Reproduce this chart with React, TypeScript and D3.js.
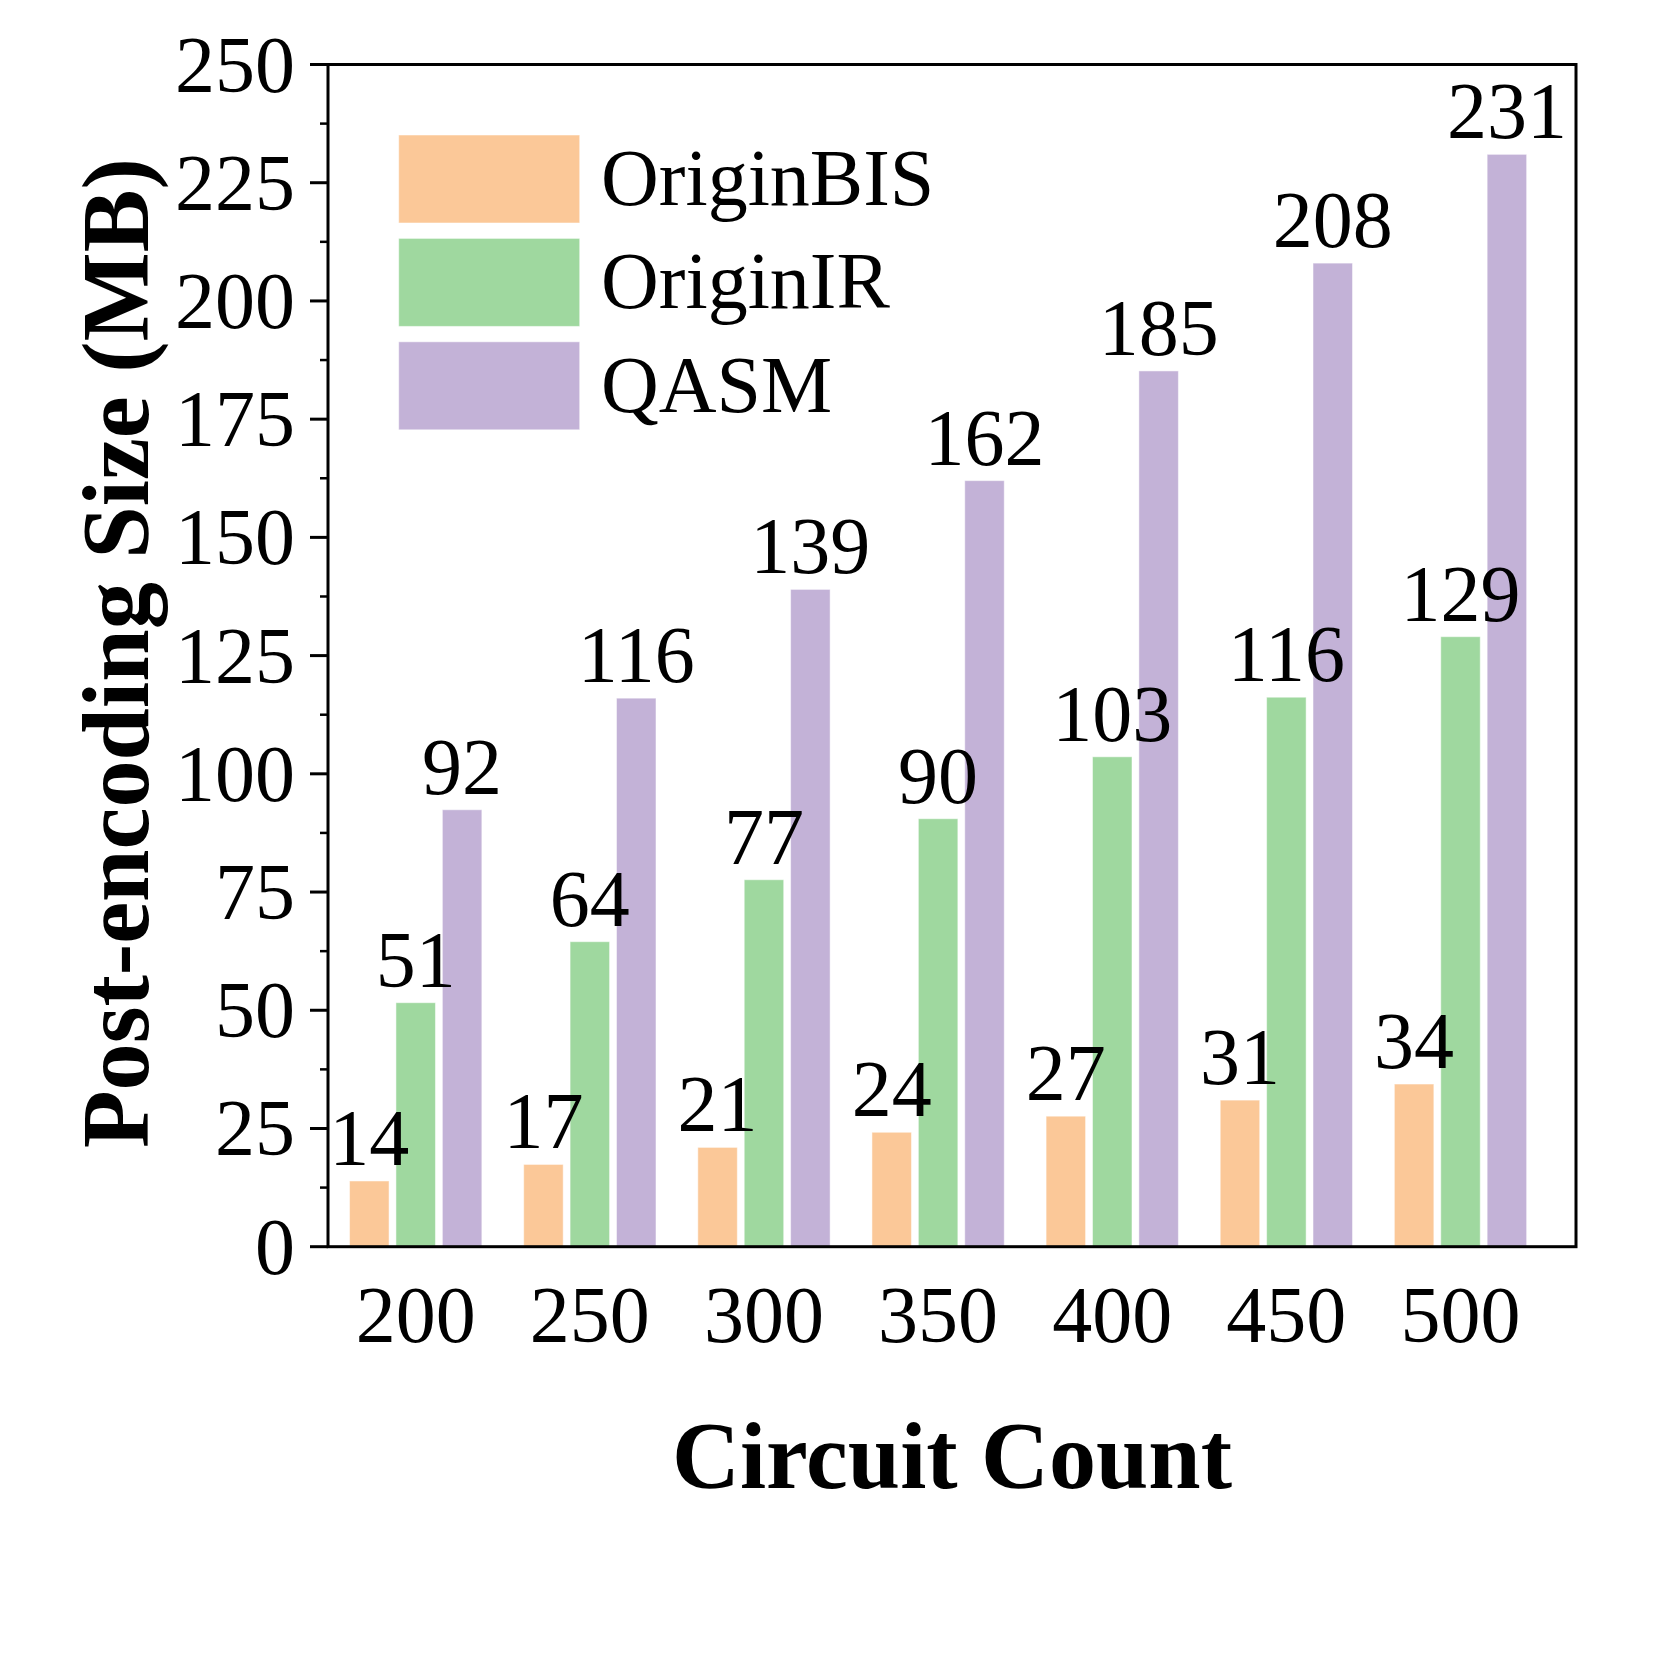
import React from "react";
import * as d3 from "d3";

const categories = ["200", "250", "300", "350", "400", "450", "500"];
const seriesNames = ["OriginBIS", "OriginIR", "QASM"];
// bar heights
const originBIS = [13.9, 17.4, 21, 24.2, 27.6, 31, 34.4];
const originIR = [51.6, 64.5, 77.6, 90.5, 103.6, 116.2, 129];
const qasm = [92.4, 116, 139, 162, 185.2, 208, 231];
// printed value labels
const originBISLabels = ["14", "17", "21", "24", "27", "31", "34"];
const originIRLabels = ["51", "64", "77", "90", "103", "116", "129"];
const qasmLabels = ["92", "116", "139", "162", "185", "208", "231"];
const seriesColors = ["#FBC898", "#9FD89F", "#C3B2D7"];
const yTicks = [0, 25, 50, 75, 100, 125, 150, 175, 200, 225, 250];

const W = 1667;
const H = 1667;
const left = 328;
const right = 1576;
const top = 64.5;
const bottom = 1246.7;

const FONT = "'Liberation Serif', 'Times New Roman', serif";

export default function App() {
  const series = [originBIS, originIR, qasm];
  const labels = [originBISLabels, originIRLabels, qasmLabels];
  const y = d3.scaleLinear().domain([0, 250]).range([bottom, top]);
  const xc = d3.scaleLinear().domain([0, categories.length - 1]).range([415.7, 1460.5]);
  const pitch = 46.4;
  const bw = 39.5;
  const minor = d3.range(12.5, 250, 25);

  return (
    <svg width={W} height={H} style={{ position: "absolute", left: 0, top: 0, background: "#fff" }} fontFamily={FONT}>
      <rect x={0} y={0} width={W} height={H} fill="#fff" />
      {/* bars */}
      {series.map((vals, s) =>
        vals.map((v, i) => {
          const cx = xc(i) + (s - 1) * pitch;
          return (
            <rect
              key={`b${s}-${i}`}
              x={cx - bw / 2}
              y={y(v)}
              width={bw}
              height={y(0) - y(v)}
              fill={seriesColors[s]}
              stroke="#ffffff"
              strokeOpacity={0.5}
              strokeWidth={1}
            />
          );
        })
      )}
      {/* value labels */}
      {series.map((vals, s) =>
        vals.map((v, i) => {
          const cx = xc(i) + (s - 1) * pitch;
          return (
            <text
              key={`l${s}-${i}`}
              x={cx}
              y={y(v) - 16}
              textAnchor="middle"
              fontSize={80}
              fill="#000"
            >
              {labels[s][i]}
            </text>
          );
        })
      )}
      {/* frame */}
      <rect x={left} y={top} width={right - left} height={bottom - top} fill="none" stroke="#000" strokeWidth={3} />
      {/* y ticks */}
      {yTicks.map((t) => (
        <g key={`yt${t}`}>
          <line x1={left - 18} x2={left} y1={y(t)} y2={y(t)} stroke="#000" strokeWidth={3} />
          <text x={295} y={y(t) + 27} textAnchor="end" fontSize={80} fill="#000">
            {t}
          </text>
        </g>
      ))}
      {minor.map((t) => (
        <line key={`ym${t}`} x1={left - 8} x2={left} y1={y(t)} y2={y(t)} stroke="#000" strokeWidth={2.5} />
      ))}
      {/* x labels */}
      {categories.map((c, i) => (
        <text key={`xl${i}`} x={xc(i)} y={1342} textAnchor="middle" fontSize={80} fill="#000">
          {c}
        </text>
      ))}
      {/* axis titles */}
      <text
        x={952}
        y={1488}
        textAnchor="middle"
        fontSize={95}
        fontWeight="bold"
        textLength={560}
        lengthAdjust="spacingAndGlyphs"
        fill="#000"
      >
        Circuit Count
      </text>
      <text
        transform={`translate(148,653) rotate(-90)`}
        textAnchor="middle"
        fontSize={95}
        fontWeight="bold"
        textLength={990}
        lengthAdjust="spacingAndGlyphs"
        fill="#000"
      >
        Post-encoding Size (MB)
      </text>
      {/* legend */}
      {seriesNames.map((n, s) => {
        const ty = 135 + s * 103.4;
        return (
          <g key={`lg${s}`}>
            <rect x={398.7} y={ty} width={181} height={88} fill={seriesColors[s]} stroke="#fff" strokeOpacity={0.5} strokeWidth={1} />
            <text x={601} y={ty + 70} fontSize={80} fill="#000">
              {n}
            </text>
          </g>
        );
      })}
    </svg>
  );
}
